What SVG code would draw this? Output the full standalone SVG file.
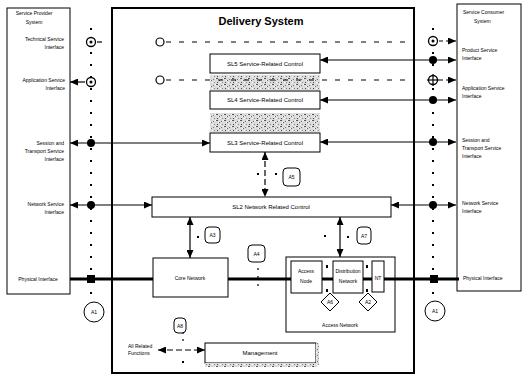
<svg xmlns="http://www.w3.org/2000/svg" width="524" height="376" viewBox="0 0 524 376">
<defs>
<marker id="ah" viewBox="0 0 8 7" refX="8" refY="3.5" markerWidth="8" markerHeight="7" markerUnits="userSpaceOnUse" orient="auto-start-reverse"><path d="M0,0 L8,3.5 L0,7 z" fill="#000"/></marker>
<pattern id="noise" width="8" height="6" patternUnits="userSpaceOnUse">
<rect width="8" height="6" fill="#dcdcdc"/>
<rect x="0" y="0" width="2" height="1" fill="#555"/><rect x="3" y="2" width="1" height="1" fill="#666"/>
<rect x="5" y="1" width="1" height="1" fill="#777"/><rect x="1" y="4" width="1" height="1" fill="#444"/>
<rect x="6" y="4" width="1" height="1" fill="#888"/>
<rect x="2" y="2" width="1" height="1" fill="#fff"/><rect x="7" y="0" width="1" height="1" fill="#fff"/><rect x="4" y="4" width="1" height="1" fill="#fff"/>
</pattern>
<style>
text{font-family:"Liberation Sans",Arial,sans-serif;fill:#000}
.s{font-size:5px}
.m{font-size:6px}
.b{fill:#fff;stroke:#000;stroke-width:1}
.t{font-size:11px;font-weight:bold}
.ln{stroke:#000;stroke-width:1.2;fill:none}
.ds{stroke:#000;stroke-width:1;fill:none;stroke-dasharray:5 8}
.dot{stroke:#000;stroke-width:2;fill:none;stroke-dasharray:2 10}
.ph{stroke:#000;stroke-width:3;fill:none}
.lab{fill:#fff;stroke:#000;stroke-width:1}
</style>
</defs>
<rect width="524" height="376" fill="#fff"/>

<g id="provider">
<rect class="b" x="7" y="8" width="63" height="286"/>
<text class="s" x="34" y="15" text-anchor="middle">Service Provider</text>
<text class="s" x="34" y="24" text-anchor="middle">System</text>
<text class="s" x="64" y="41" text-anchor="end">Technical Service</text>
<text class="s" x="64" y="49" text-anchor="end">Interface</text>
<text class="s" x="65" y="82" text-anchor="end">Application Service</text>
<text class="s" x="65" y="90" text-anchor="end">Interface</text>
<text class="s" x="64" y="145" text-anchor="end">Session and</text>
<text class="s" x="64" y="153" text-anchor="end">Transport Service</text>
<text class="s" x="64" y="161" text-anchor="end">Interface</text>
<text class="s" x="64" y="206" text-anchor="end">Network Service</text>
<text class="s" x="64" y="214" text-anchor="end">Interface</text>
<text class="s" x="38" y="281" text-anchor="middle">Physical Interface</text>
</g>

<g id="consumer">
<rect class="b" x="457" y="4" width="64" height="287"/>
<text class="s" x="463" y="14">Service Consumer</text>
<text class="s" x="474" y="23">System</text>
<text class="s" x="462" y="52">Product Service</text>
<text class="s" x="462" y="60">Interface</text>
<text class="s" x="462" y="90">Application Service</text>
<text class="s" x="462" y="98">Interface</text>
<text class="s" x="462" y="142">Session and</text>
<text class="s" x="462" y="150">Transport Service</text>
<text class="s" x="462" y="158">Interface</text>
<text class="s" x="462" y="205">Network Service</text>
<text class="s" x="462" y="213">Interface</text>
<text class="s" x="463" y="280">Physical Interface</text>
</g>

<g id="delivery">
<rect x="112" y="8" width="302" height="365" fill="none" stroke="#000" stroke-width="2"/>
<text class="t" x="261" y="25" text-anchor="middle">Delivery System</text>
</g>

<g id="hatch">
<rect x="210" y="75" width="110" height="15" fill="url(#noise)"/>
<rect x="210" y="113" width="110" height="19" fill="url(#noise)"/>
</g>

<g id="sl5"><rect class="b" x="210" y="54" width="110" height="19"/><text class="m" x="265" y="66" text-anchor="middle">SL5 Service-Related Control</text></g>
<g id="sl4"><rect class="b" x="210" y="91" width="110" height="18"/><text class="m" x="265" y="102" text-anchor="middle">SL4 Service-Related Control</text></g>
<g id="sl3"><rect class="b" x="210" y="133" width="110" height="19"/><text class="m" x="265" y="145" text-anchor="middle">SL3 Service-Related Control</text></g>
<g id="nrc"><rect class="b" x="152" y="197" width="239" height="20"/><text class="m" x="271" y="209" text-anchor="middle">SL2 Network Related Control</text></g>
<g id="core"><rect class="b" x="153" y="258" width="75" height="39"/><text class="s" x="190" y="280" text-anchor="middle">Core Network</text></g>
<g id="accessnet"><rect class="b" x="286" y="257" width="109" height="75"/><text class="s" x="340" y="327" text-anchor="middle">Access Network</text></g>
<g id="accessnode"><rect class="b" x="291" y="261" width="31" height="32"/><text class="s" x="306" y="273" text-anchor="middle">Access</text><text class="s" x="306" y="283" text-anchor="middle">Node</text></g>
<g id="distnet"><rect class="b" x="333" y="261" width="30" height="32"/><text class="s" x="348" y="273" text-anchor="middle">Distribution</text><text class="s" x="348" y="283" text-anchor="middle">Network</text></g>
<g id="nt"><rect class="b" x="372" y="261" width="12" height="31"/><text class="s" x="378" y="280" text-anchor="middle">NT</text></g>
<g id="mgmt"><rect class="b" x="205" y="343" width="111" height="20"/><text class="m" x="260" y="355" text-anchor="middle">Management</text>
<rect x="205" y="363" width="112" height="4" fill="url(#noise)"/><rect x="316" y="343" width="3" height="22" fill="url(#noise)"/></g>
<g id="allrel"><text class="s" x="128" y="348">All Related</text><text class="s" x="128" y="355">Functions</text></g>

<g id="connectors">
<line class="dot" x1="91" y1="28" x2="91" y2="300"/>
<line class="dot" x1="433" y1="28" x2="433" y2="300"/>
<circle cx="91" cy="42" r="4.5" fill="#fff" stroke="#000" stroke-width="1.3"/><circle cx="91" cy="42" r="1.5"/>
<line class="ln" x1="97" y1="42" x2="102" y2="42"/>
<circle cx="160" cy="42" r="4" fill="#fff" stroke="#000" stroke-width="1.2"/>
<line class="ds" x1="166" y1="42" x2="412" y2="42"/>
<circle cx="433" cy="41" r="4.5" fill="#fff" stroke="#000" stroke-width="1.3"/><circle cx="433" cy="41" r="1.5"/>
<line class="ln" x1="439" y1="41" x2="456" y2="41" stroke-dasharray="4 3" marker-end="url(#ah)"/>
<line class="ln" x1="320" y1="60" x2="456" y2="60" marker-start="url(#ah)" marker-end="url(#ah)"/>
<circle cx="433" cy="60" r="4"/>
<circle cx="91" cy="82" r="4.5" fill="#fff" stroke="#000" stroke-width="1.3"/><circle cx="91" cy="82" r="1.5"/>
<line class="ln" x1="85" y1="82" x2="70" y2="82" stroke-width="2" marker-end="url(#ah)"/>
<circle cx="160" cy="80" r="4" fill="#fff" stroke="#000" stroke-width="1.2"/>
<line class="ds" x1="166" y1="80" x2="412" y2="80"/>
<circle cx="433" cy="80" r="4.5" fill="#fff" stroke="#000" stroke-width="1.3"/><line class="ln" x1="433" y1="74" x2="433" y2="86"/><line class="ln" x1="427" y1="80" x2="439" y2="80"/>
<line class="ln" x1="439" y1="80" x2="456" y2="80" stroke-dasharray="4 3" marker-end="url(#ah)"/>
<line class="ln" x1="320" y1="100" x2="456" y2="100" marker-start="url(#ah)" marker-end="url(#ah)"/>
<circle cx="433" cy="100" r="4"/>
<line class="ln" x1="70" y1="143" x2="210" y2="143" marker-start="url(#ah)" marker-end="url(#ah)"/>
<circle cx="91" cy="143" r="4"/>
<line class="ln" x1="320" y1="142" x2="456" y2="142" marker-start="url(#ah)" marker-end="url(#ah)"/>
<circle cx="433" cy="142" r="4"/>
<line class="ln" x1="70" y1="205" x2="152" y2="205" marker-start="url(#ah)" marker-end="url(#ah)"/>
<circle cx="91" cy="205" r="4"/>
<line class="ln" x1="391" y1="205" x2="456" y2="205" marker-start="url(#ah)" marker-end="url(#ah)"/>
<circle cx="433" cy="205" r="4"/>
<line class="ln" x1="265" y1="152" x2="265" y2="197" stroke-dasharray="6 3" marker-start="url(#ah)" marker-end="url(#ah)"/>
<rect x="257" y="173" width="2" height="2"/><rect x="275" y="173" width="2" height="2"/>
<line class="ln" x1="190" y1="217" x2="190" y2="258" marker-start="url(#ah)" marker-end="url(#ah)"/>
<rect x="197" y="236" width="2" height="2"/>
<line class="ln" x1="340" y1="217" x2="340" y2="257" marker-start="url(#ah)" marker-end="url(#ah)"/>
<rect x="324" y="235" width="2" height="2"/><rect x="347" y="236" width="2" height="2"/>
<line class="ln" x1="258" y1="268" x2="258" y2="290" stroke-dasharray="2 6"/>
<line class="ln" x1="158" y1="350" x2="205" y2="350" stroke-dasharray="6 3" marker-start="url(#ah)" marker-end="url(#ah)"/>
<line class="ln" x1="183" y1="332" x2="183" y2="345" stroke-dasharray="2 5"/>
<rect x="182" y="361" width="2" height="2"/>
<line class="ph" x1="70" y1="279" x2="153" y2="279"/>
<line class="ph" x1="228" y1="279" x2="291" y2="279"/>
<line class="ph" x1="322" y1="279" x2="333" y2="279"/>
<line class="ph" x1="363" y1="279" x2="372" y2="279"/>
<line class="ph" x1="384" y1="279" x2="459" y2="279"/>
<rect x="87" y="275" width="8" height="8"/>
<rect x="430" y="275" width="8" height="8"/>
<rect x="326" y="265" width="2" height="3"/><rect x="326" y="289" width="2" height="3"/>
<rect x="366" y="265" width="2" height="3"/><rect x="366" y="289" width="2" height="3"/>
</g>

<g id="labels">
<rect class="lab" x="283" y="168" width="17" height="18" rx="4"/><text class="s" x="291.5" y="179" text-anchor="middle">A5</text>
<rect class="lab" x="205" y="227" width="15" height="16" rx="4"/><text class="s" x="212.5" y="237" text-anchor="middle">A3</text>
<rect class="lab" x="248" y="245" width="17" height="17" rx="4"/><text class="s" x="256.5" y="255.5" text-anchor="middle">A4</text>
<rect class="lab" x="357" y="227" width="14" height="17" rx="4"/><text class="s" x="364" y="237.5" text-anchor="middle">A7</text>
<rect class="lab" x="174" y="318" width="12" height="15" rx="4"/><text class="s" x="180" y="327.5" text-anchor="middle">A8</text>
<path class="lab" d="M330,293 L339,302 L330,311 L321,302 z"/><text class="s" x="330" y="304" text-anchor="middle">A6</text>
<path class="lab" d="M368,293 L377,302 L368,311 L359,302 z"/><text class="s" x="368" y="304" text-anchor="middle">A2</text>
<circle class="lab" cx="94" cy="312" r="10"/><text class="s" x="94" y="314" text-anchor="middle">A1</text>
<circle class="lab" cx="435" cy="311" r="10"/><text class="s" x="435" y="313" text-anchor="middle">A1</text>
</g>
</svg>
